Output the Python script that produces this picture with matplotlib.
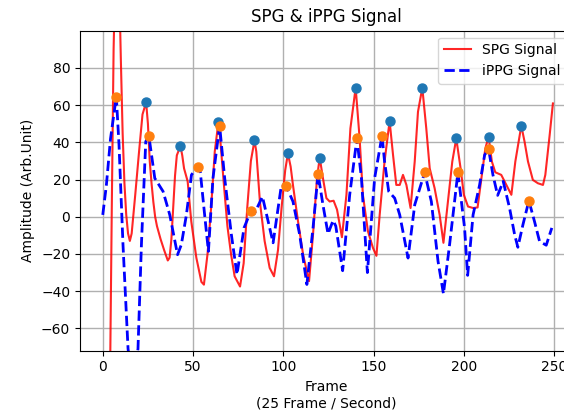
import matplotlib
matplotlib.use("Agg")
import matplotlib.pyplot as plt

# SPG signal (red): frame, amplitude
spg_x = [0, 2, 4, 5, 6, 7, 8, 9, 10, 11, 12, 13, 14, 15, 16, 18, 20, 22, 24,
         25, 26, 27, 28, 29, 30, 32, 34, 36, 37, 38, 39, 40, 41, 43,
         44, 45, 47, 49, 51.8, 54.6, 56, 58, 60, 62, 64,
         65, 67, 69, 71, 73, 76, 78, 80, 82, 84,
         85, 87, 89.6, 92.4, 94.8, 97, 99, 101, 102.5,
         104, 105.3, 108.1, 110.9, 114.2, 116.4, 118.6, 120.1,
         121.9, 123.8, 125.6, 127.8, 129.7, 132.4, 134.9, 137.1, 140,
         142.2, 144, 146.8, 149.6, 151.5, 153.3, 156, 158.8,
         160.7, 162.5, 164.4, 166.2, 168.1, 170.4, 172.7, 174.5, 176.9,
         179.1, 181, 183.7, 186.5, 188.6, 191.1, 193.5, 195.7,
         198.1, 199.9, 202.2, 205, 207.5, 209.6, 211.8, 213.6,
         215.4, 217.3, 220.6, 223.4, 226.2, 228.4, 231.7,
         233.5, 235.4, 238.1, 240.9, 243.7, 245, 247.4, 249.2]
spg_y = [-400, -250, -90, 5, 90, 135, 150, 130, 85, 45, 18, 1, -9, -13, -9, 12, 34, 55, 61.5,
         50, 30, 18, 8, 0, -5, -12, -18, -23.5, -22, -12, 5, 22, 33, 38,
         33, 26, 19, -2.5, -22, -35, -36.5, -20, 5, 35, 50.7,
         42, 18, -5, -20, -32, -37.5, -25, 5, 30, 41,
         35, 8, -13, -27.5, -32, -18, 5, 25, 34,
         27, 17, -2.5, -20.3, -34.6, -9.6, 20.7, 31.8,
         20.7, 10, 8.2, 8.6, 3.8, -11, 11.8, 47.5, 69.4,
         42.1, 11.8, -7.8, -16.8, -21, 1, 29.7, 51.4,
         33.2, 17.1, 17.1, 22.5, 17.1, 4.7, 29.7, 56.4, 69.3,
         47.5, 26, 15.4, 1, -14, 8.2, 29.7, 42.1,
         26, 11.8, 5.5, 4.7, 5, 20.7, 36.8, 43,
         29.7, 23.9, 22.5, 17.1, 11.8, 29.7, 48.9,
         40.4, 29.7, 19.8, 18, 17.1, 22.5, 43.9, 60.9]

# iPPG signal (blue dashed)
ippg_x = [0, 2, 4.3, 7.5, 9, 11.2, 14, 16.5, 19.5, 21.4, 23.8, 25.5,
          28.8, 33.4, 37.1, 41.4, 43.5, 46.3, 49.1, 52.5, 54, 56.4, 58.5,
          61, 64.7, 67.5, 71.2, 74.3, 78.2, 82, 84, 88.4, 92.4, 94.3,
          98.9, 101.5, 105.3, 109, 113, 116.4, 119.2, 121.9, 124.7,
          127.5, 129, 132.8, 136.7, 140.7, 143.2, 146.5, 150.5, 154.6,
          156, 158.3, 161.6, 164.4, 169, 172.7, 178.2, 181.9, 185.6,
          188.6, 192, 196.6, 200.3, 202, 205, 208.6, 211.4, 213.6, 216,
          218.6, 221.7, 225.2, 228, 229.8, 232.6, 235.9, 239, 241.8,
          245.5, 248.6]
ippg_y = [1, 17, 42, 64.6, 38.6, -15, -71, -90, -71, -15, 40.4, 43.6,
          20.7, 13.6, 1, -20.4, -15, 1, 22.5, 26.8, 24, 1, -18.6,
          20.7, 48.9, 20.7, -9.6, -31.1, -6, 3.1, 1.8, 10.8, -6, -14,
          17, 16.6, 8.2, -9.6, -36.4, -6, 23, 6.4, -9.2,
          -2, -5, -29, 11.8, 42.1, 20.7, -30, 20.7, 43.6,
          29.7, 13.6, 10, 1, -22.2, 6.4, 23.8, 8.2, -23.9,
          -41.4, -15, 23.8, -6, -31.5, 1, 17, 33.2, 36.4, 22.5,
          11.5, 19, 4.7, -9.6, -16.4, -4.3, 8.6, -2.5, -13.2,
          -15.3, -6]

# detected peaks
spg_peak_x = [24, 43, 64, 84, 102.5, 120.1, 140, 158.8, 176.9, 195.7, 213.6, 231.7]
spg_peak_y = [61.5, 38, 50.7, 41, 34, 31.8, 69.4, 51.4, 69.3, 42.1, 43, 48.9]
ippg_peak_x = [7.5, 25.5, 52.5, 64.7, 82, 101.5, 119.2, 140.7, 154.6, 178.2, 196.6, 213.6, 235.9]
ippg_peak_y = [64.6, 43.6, 26.8, 48.9, 3.1, 16.6, 23, 42.1, 43.6, 23.8, 23.8, 36.4, 8.6]

fig = plt.figure(figsize=(5.64, 4.17), dpi=100)
ax = fig.add_axes([80 / 564, (417 - 350.7) / 417, (573.5 - 80) / 564, 320 / 417])

ax.plot(spg_x, spg_y, color="red", lw=1.5, alpha=0.85, label="SPG Signal")
ax.plot(ippg_x, ippg_y, color="blue", lw=2, ls="--", label="iPPG Signal")
ax.plot(spg_peak_x, spg_peak_y, "o", color="#1f77b4", ms=6.5)
ax.plot(ippg_peak_x, ippg_peak_y, "o", color="#ff7f0e", ms=6.5)

ax.set_xlim(-12.6, 260.6)
ax.set_ylim(-72, 100)
ax.set_xticks([0, 50, 100, 150, 200, 250])
ax.set_yticks([-60, -40, -20, 0, 20, 40, 60, 80])
ax.grid(True, color="#b0b0b0", lw=1)
ax.set_title("SPG & iPPG Signal", fontsize=12)
ax.set_xlabel("Frame\n(25 Frame / Second)", fontsize=10)
ax.set_ylabel("Amplitude (Arb.Unit)", fontsize=10)
ax.legend(loc="upper right", fontsize=10)

fig.savefig("out.png", dpi=100)
